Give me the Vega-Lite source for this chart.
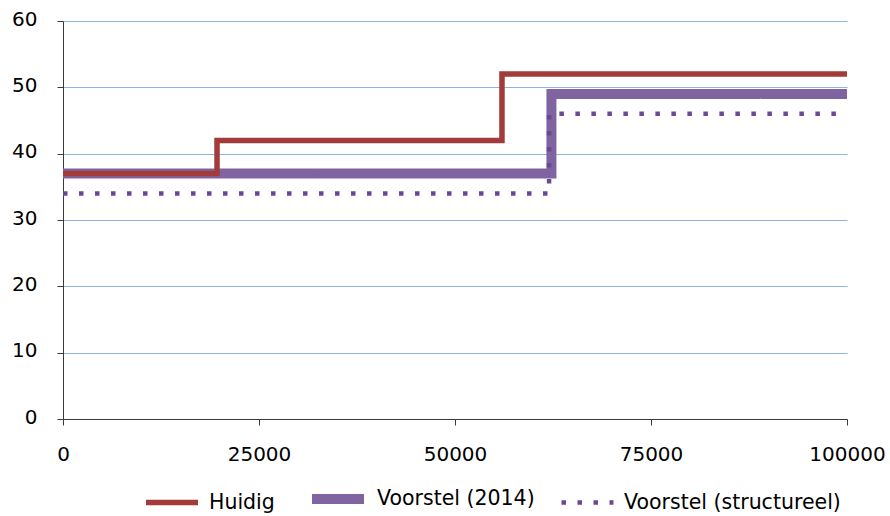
{
  "$schema": "https://vega.github.io/schema/vega-lite/v6.json",
  "width": 784,
  "height": 398,
  "autosize": {"type": "none"},
  "padding": {"left": 63, "top": 21, "right": 43, "bottom": 97},
  "background": "white",
  "config": {
    "view": {"stroke": null},
    "font": "DejaVu Sans",
    "axis": {
      "labelFont": "DejaVu Sans",
      "labelFontSize": 20,
      "labelColor": "#000000",
      "domainColor": "#3a3a3a",
      "tickColor": "#3a3a3a",
      "tickSize": 6,
      "title": null
    },
    "legend": {
      "labelFont": "DejaVu Sans",
      "labelFontSize": 20.5,
      "labelColor": "#000000",
      "labelLimit": 400
    }
  },
  "data": {
    "values": [
      {"series": "Huidig", "inkomen": 0, "tarief": 37},
      {"series": "Huidig", "inkomen": 19645, "tarief": 42},
      {"series": "Huidig", "inkomen": 55991, "tarief": 52},
      {"series": "Huidig", "inkomen": 100000, "tarief": 52},
      {"series": "Voorstel (2014)", "inkomen": 0, "tarief": 37},
      {"series": "Voorstel (2014)", "inkomen": 62300, "tarief": 49},
      {"series": "Voorstel (2014)", "inkomen": 100000, "tarief": 49},
      {"series": "Voorstel (structureel)", "inkomen": 0, "tarief": 34},
      {"series": "Voorstel (structureel)", "inkomen": 62000, "tarief": 46},
      {"series": "Voorstel (structureel)", "inkomen": 100000, "tarief": 46}
    ]
  },
  "encoding": {
    "x": {
      "field": "inkomen",
      "type": "quantitative",
      "scale": {"domain": [0, 100000], "nice": false, "zero": false},
      "axis": {
        "values": [0, 25000, 50000, 75000, 100000],
        "format": "d",
        "grid": false,
        "labelPadding": 19,
        "labelFlush": false
      }
    },
    "y": {
      "field": "tarief",
      "type": "quantitative",
      "scale": {"domain": [0, 60], "nice": false},
      "axis": {
        "values": [0, 10, 20, 30, 40, 50, 60],
        "grid": true,
        "gridColor": "#8eb4e3",
        "gridWidth": 1,
        "labelPadding": 20,
        "labelOffset": -2
      }
    },
    "color": {
      "field": "series",
      "type": "nominal",
      "scale": {
        "domain": ["Huidig", "Voorstel (2014)", "Voorstel (structureel)"],
        "range": ["#a33b3b", "#8064a2", "#684a91"]
      },
      "legend": {
        "title": null,
        "orient": "none",
        "direction": "horizontal",
        "legendX": 80,
        "legendY": 447,
        "symbolType": "stroke",
        "symbolSize": 2704,
        "labelOffset": 8,
        "columnPadding": 17,
        "labelLimit": 400
      }
    },
    "strokeWidth": {
      "field": "series",
      "type": "nominal",
      "scale": {
        "type": "ordinal",
        "domain": ["Huidig", "Voorstel (2014)", "Voorstel (structureel)"],
        "range": [5.5, 10, 4.5]
      },
      "legend": {
        "title": null,
        "orient": "none",
        "direction": "horizontal",
        "legendX": 80,
        "legendY": 447,
        "symbolType": "stroke",
        "symbolSize": 2704,
        "labelOffset": 8,
        "columnPadding": 17,
        "labelLimit": 400
      }
    },
    "strokeDash": {
      "field": "series",
      "type": "nominal",
      "scale": {
        "domain": ["Huidig", "Voorstel (2014)", "Voorstel (structureel)"],
        "range": [[1, 0], [1, 0], [4.5, 11.5]]
      },
      "legend": {
        "title": null,
        "orient": "none",
        "direction": "horizontal",
        "legendX": 80,
        "legendY": 447,
        "symbolType": "stroke",
        "symbolSize": 2704,
        "labelOffset": 8,
        "columnPadding": 17,
        "labelLimit": 400
      }
    }
  },
  "layer": [
    {
      "transform": [{"filter": "datum.series === 'Voorstel (2014)'"}],
      "mark": {"type": "line", "interpolate": "step-after", "strokeCap": "butt", "clip": false}
    },
    {
      "transform": [{"filter": "datum.series === 'Voorstel (structureel)'"}],
      "mark": {"type": "line", "interpolate": "step-after", "strokeCap": "butt", "clip": false}
    },
    {
      "transform": [{"filter": "datum.series === 'Huidig'"}],
      "mark": {"type": "line", "interpolate": "step-after", "strokeCap": "butt", "clip": false}
    }
  ]
}
